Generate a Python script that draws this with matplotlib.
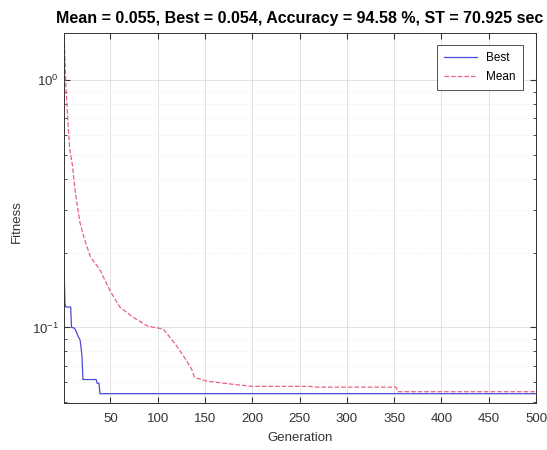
import matplotlib
matplotlib.use('Agg')
import matplotlib.pyplot as plt
from matplotlib.ticker import LogLocator, NullFormatter

plt.rcParams['font.family'] = ['Liberation Sans', 'DejaVu Sans']
plt.rcParams['mathtext.default'] = 'regular'

# values (generation, fitness)
best_gen = [1, 2, 3, 8, 9, 12, 14, 16, 18, 19, 20, 21, 35, 36, 38, 39, 500]
best_val = [0.18, 0.125, 0.121, 0.121, 0.100, 0.0995, 0.096, 0.092, 0.089,
            0.083, 0.0768, 0.0616, 0.0616, 0.0595, 0.0595, 0.054, 0.054]

mean_gen = [1, 2, 3, 5, 7, 10, 13, 18, 23, 29, 39, 50, 60, 74, 89, 97, 106,
            120, 130, 136, 139, 152, 180, 201, 262, 264, 352, 354, 500]
mean_val = [1.60, 1.23, 0.95, 0.69, 0.53, 0.45, 0.35, 0.264, 0.225, 0.193,
            0.171, 0.140, 0.121, 0.110, 0.1015, 0.100, 0.0986, 0.0843, 0.074,
            0.0677, 0.0628, 0.0607, 0.0589, 0.0578, 0.0578, 0.0574, 0.0574,
            0.055, 0.055]

xticks = [50, 100, 150, 200, 250, 300, 350, 400, 450, 500]
title = 'Mean = 0.055, Best = 0.054, Accuracy = 94.58 %, ST = 70.925 sec'

fig = plt.figure(figsize=(5.47, 4.5), dpi=100)
ax = fig.add_axes([0.117, 0.1044, 0.863, 0.822])

ax.semilogy(best_gen, best_val, '-', color='#4a4ad8', lw=0.9, label='Best')
ax.semilogy(mean_gen, mean_val, '--', color='#e8627a', lw=0.9, label='Mean')

ax.set_xlim(1, 500)
ax.set_ylim(0.0495, 1.55)
ax.set_xticks(xticks)
ax.yaxis.set_minor_locator(LogLocator(base=10, subs=range(2, 10)))
ax.yaxis.set_minor_formatter(NullFormatter())

ax.grid(True, which='major', color='#dcdcdc', lw=0.6)
ax.grid(True, which='minor', axis='y', color='#e6e6e6', lw=0.5, ls=':')
ax.set_axisbelow(True)

ax.tick_params(which='both', direction='in', top=True, right=True,
               labelsize=9.5, colors='#333333', labelcolor='#333333')
ax.tick_params(which='major', length=4)
ax.tick_params(which='minor', length=2)
ax.tick_params(axis='x', pad=7)
for s in ax.spines.values():
    s.set_color('#333333')
    s.set_linewidth(0.7)

ax.set_xlabel('Generation', fontsize=9.5, color='#333333', labelpad=5)
ax.set_ylabel('Fitness', fontsize=9.5, color='#333333')
ax.yaxis.set_label_coords(-0.088, 0.49)
ax.set_title(title, fontsize=11.5, fontweight='bold', pad=7)

leg = ax.legend(loc='upper right', fontsize=8.5, fancybox=False,
                edgecolor='#333333', framealpha=1, handlelength=2.8,
                borderpad=0.6, labelspacing=0.55, borderaxespad=0,
                bbox_to_anchor=(0.972, 0.9676))
leg.get_frame().set_linewidth(0.6)

fig.savefig('out.png', dpi=100)
